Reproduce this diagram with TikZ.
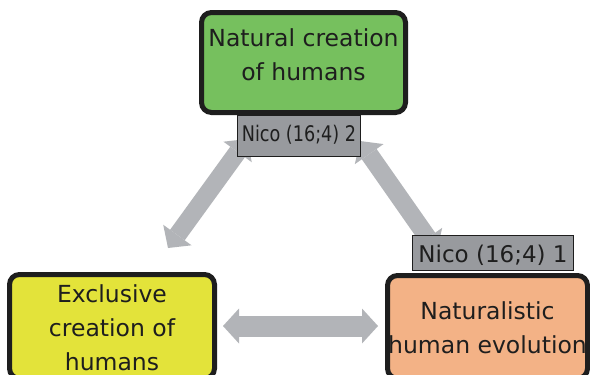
\documentclass[tikz,border=0pt]{standalone}
\usepackage{fontspec}
\usepackage{graphicx}
\setmainfont{DejaVu Sans}
\usetikzlibrary{arrows.meta}

\definecolor{natgreen}{RGB}{118,192,94}
\definecolor{exyellow}{RGB}{227,227,58}
\definecolor{evorange}{RGB}{243,178,134}
\definecolor{tagcol}{RGB}{152,154,158}
\definecolor{linkgray}{RGB}{178,180,184}
\definecolor{ink}{RGB}{30,30,30}

\tikzset{
  mainbox/.style={draw=ink, line width=5pt, rounded corners=10pt, align=center,
    text=ink, font=\fontsize{23.5}{34}\selectfont, inner sep=0pt, text depth=0pt},
  tagbox/.style={draw=ink, line width=1.2pt, fill=tagcol, text=ink, inner sep=0pt},
  link/.style={draw=linkgray, line width=18pt,
    >={Triangle[width=35pt,length=16pt,line width=0pt]}, <->}
}

\begin{document}
\begin{tikzpicture}[x=1pt,y=-1pt]
  \useasboundingbox (0,0) rectangle (590,375);
  \clip (0,0) rectangle (590,375);
  \fill[white] (0,0) rectangle (590,375);

  % double arrows between the three positions
  \coordinate (l1) at (168,248);
  \coordinate (l2) at (247,139);
  \coordinate (r1) at (360,141);
  \coordinate (r2) at (437,251);
  \coordinate (h1) at (223,326);
  \coordinate (h2) at (378,326);
  \draw[link] (l1) -- (l2);
  \draw[link] (r1) -- (r2);
  \draw[link, line width=21pt] (h1) -- (h2);

  % the three positions
  \node[mainbox, fill=natgreen, minimum width=204pt, minimum height=100pt,
        text height=35pt] (natural) at (303.5,62.5) {Natural creation\\of humans};
  \node[mainbox, fill=exyellow, minimum width=205pt, minimum height=104pt,
        text height=87pt] (exclusive) at (112,326.5) {Exclusive\\creation of\\humans};
  \node[mainbox, fill=evorange, minimum width=200pt, minimum height=103pt,
        text height=52pt] (naturalistic) at (487.5,327) {Naturalistic\\human evolution};

  % tags
  \node[tagbox, minimum width=122.8pt, minimum height=40.8pt,
        font=\fontsize{21.5}{24}\selectfont, text height=15pt, text depth=3.6pt]
        (tagtop) at (299,136) {\scalebox{0.82}[1]{Nico (16;4) 2}};
  \node[tagbox, minimum width=160.8pt, minimum height=34.8pt,
        font=\fontsize{23}{26}\selectfont, text height=18pt, text depth=0pt]
        (tagright) at (493,253) {Nico (16;4) 1};
\end{tikzpicture}
\end{document}
